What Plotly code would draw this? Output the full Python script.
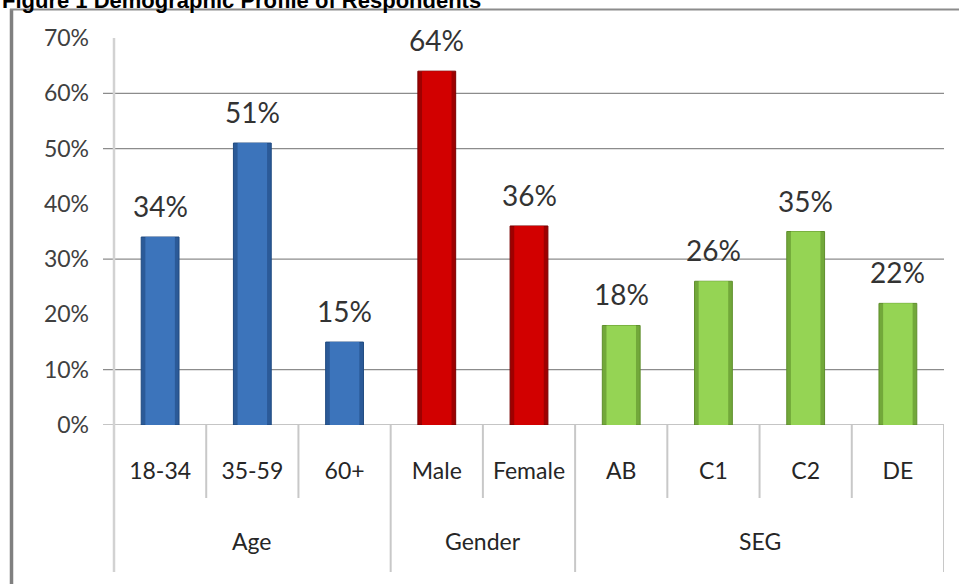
import plotly.graph_objects as go

# Survey breakdown
categories = ["18-34", "35-59", "60+", "Male", "Female", "AB", "C1", "C2", "DE"]
groups = ["Age", "Age", "Age", "Gender", "Gender", "SEG", "SEG", "SEG", "SEG"]
values = [34, 51, 15, 64, 36, 18, 26, 35, 22]

group_names = ["Age", "Gender", "SEG"]
group_fill = {"Age": "#3c74bb", "Gender": "#d20000", "SEG": "#95d454"}
group_shade = {"Age": "#2b5a98", "Gender": "#9e0000", "SEG": "#72a83a"}
group_edge = {"Age": "#1f4a80", "Gender": "#7a0000", "SEG": "#5f8f2c"}

y_ticks = [0, 10, 20, 30, 40, 50, 60, 70]
y_tick_text = ["0%", "10%", "20%", "30%", "40%", "50%", "60%", "70%"]
grid_levels = [0, 10, 30, 50, 60]

W, H = 959, 584
L, R, T, B = 114, 15, 38, 159
PW, PH = W - L - R, H - T - B


def px(x):
    return (x - L) / PW


def py(y):
    return (H - B - y) / PH


fig = go.Figure()
for g in group_names:
    xs = [c for c, gg in zip(categories, groups) if gg == g]
    ys = [v for v, gg in zip(values, groups) if gg == g]
    # shaded body with darker rim
    fig.add_trace(go.Bar(
        x=xs, y=ys, width=0.41,
        marker=dict(color=group_shade[g], line=dict(color=group_edge[g], width=1)),
        showlegend=False, hoverinfo="skip",
    ))
    # lighter face
    fig.add_trace(go.Bar(
        x=xs, y=ys, width=0.32,
        marker=dict(color=group_fill[g], line=dict(width=0)),
        showlegend=False, hoverinfo="skip",
    ))

label_font = dict(family="Lato, 'DejaVu Sans', sans-serif", size=28, color="#333333")
annotations = []
for c, v in zip(categories, values):
    annotations.append(dict(x=c, y=v, xref="x", yref="y", text=f"{v}%",
                            showarrow=False, yanchor="bottom", yshift=12,
                            font=label_font))

# group labels under the category row
for g in group_names:
    idx = [i for i, gg in enumerate(groups) if gg == g]
    annotations.append(dict(x=(idx[0] + idx[-1]) / 2, y=py(541), xref="x", yref="paper",
                            text=g, showarrow=False, yanchor="middle",
                            font=dict(family="Lato, sans-serif", size=23, color="#262626")))

annotations.append(dict(x=px(0), y=py(1), xref="paper", yref="paper",
                        text="<b>Figure 1 Demographic Profile of Respondents</b>",
                        showarrow=False, xanchor="left", yanchor="middle",
                        font=dict(family="Liberation Sans, Arial, sans-serif", size=22, color="#000000")))

shapes = []
# horizontal gridlines with their tick stubs
for lv in grid_levels:
    shapes.append(dict(type="line", xref="paper", yref="y", x0=px(103), x1=1, y0=lv, y1=lv,
                       line=dict(color="#8c8c8c", width=1.2), layer="below"))
# vertical value axis line, running down through the category rows
shapes.append(dict(type="line", xref="paper", yref="paper", x0=0, x1=0, y0=py(572), y1=1,
                   line=dict(color="#d2d2d2", width=2.5)))
# category separators
n = len(categories)
for i in range(n - 1):
    b = i + 0.5
    full = groups[i] != groups[i + 1]
    shapes.append(dict(type="line", xref="x", yref="paper", x0=b, x1=b, y0=0,
                       y1=py(572) if full else py(498),
                       line=dict(color="#c8c8c8", width=2)))
shapes.append(dict(type="line", xref="x", yref="paper", x0=n - 0.5, x1=n - 0.5, y0=0, y1=py(572),
                   line=dict(color="#c8c8c8", width=2)))
# outer frame
shapes.append(dict(type="line", xref="paper", yref="paper", x0=px(11.5), x1=px(11.5),
                   y0=py(9), y1=py(600), line=dict(color="#808080", width=3.5)))
shapes.append(dict(type="line", xref="paper", yref="paper", x0=px(10), x1=px(970),
                   y0=py(9.5), y1=py(9.5), line=dict(color="#8c8c8c", width=2)))

fig.update_layout(
    width=W, height=H,
    margin=dict(l=L, r=R, t=T, b=B),
    paper_bgcolor="white", plot_bgcolor="white",
    barmode="overlay",
    xaxis=dict(type="category", categoryorder="array", categoryarray=categories,
               range=[-0.5, n - 0.5], showgrid=False, showline=False, zeroline=False,
               ticks="", ticklabelstandoff=30,
               tickfont=dict(family="Lato, sans-serif", size=23, color="#262626")),
    yaxis=dict(range=[0, 70], tickvals=y_ticks, ticktext=y_tick_text, showgrid=False,
               zeroline=False, showline=False, ticks="", ticklabelstandoff=24,
               tickfont=dict(family="Lato, sans-serif", size=23, color="#404040")),
    annotations=annotations, shapes=shapes,
)

fig.write_html("out.html")
